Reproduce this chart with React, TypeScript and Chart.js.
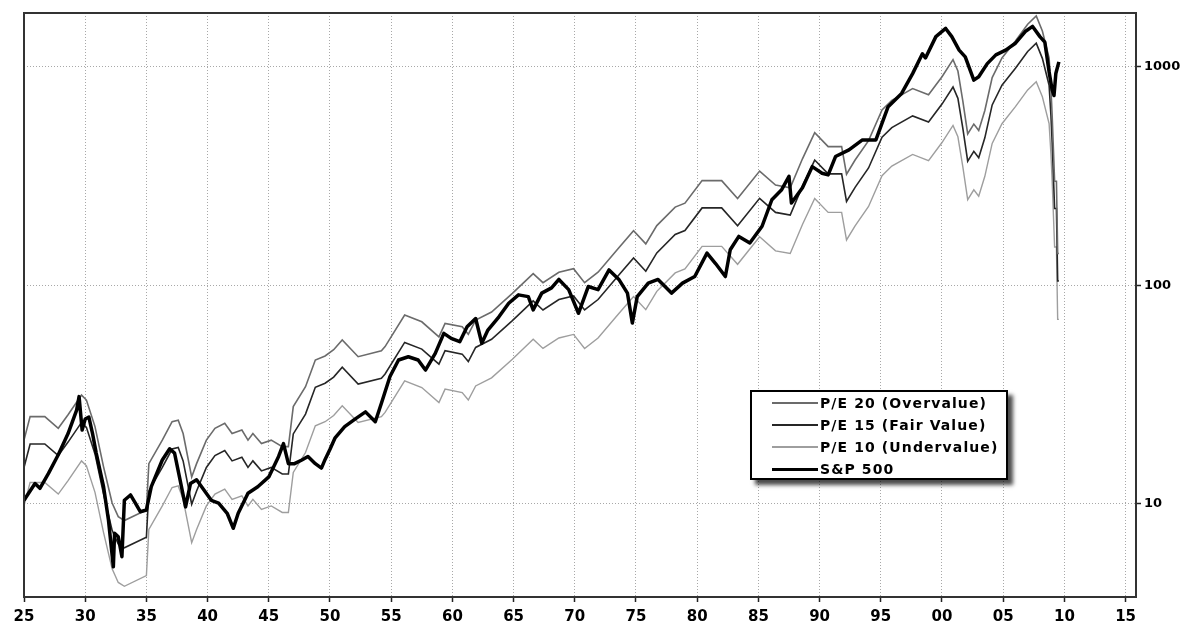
import { useEffect, useRef } from "react";
import { Chart, registerables } from "chart.js";

Chart.register(...registerables);

// S&P 500 index level (decimal year, index value)
const spYears = [
  1925.0, 1925.9, 1926.3, 1927.0, 1927.8, 1928.6, 1929.3, 1929.5, 1929.75, 1930.0, 1930.3, 1930.6,
  1930.9, 1931.5, 1931.9, 1932.3, 1932.4, 1932.7, 1933.0, 1933.2, 1933.7, 1934.1, 1934.5, 1935.0,
  1935.4, 1936.3, 1936.9, 1937.3, 1937.7, 1938.2, 1938.6, 1939.1, 1939.7, 1940.3, 1940.9, 1941.6,
  1942.1, 1942.5, 1943.3, 1944.1, 1945.0, 1945.8, 1946.2, 1946.6, 1947.1, 1947.7, 1948.2, 1948.8,
  1949.3, 1949.6, 1950.0, 1950.4, 1951.2, 1952.1, 1952.9, 1953.7, 1954.2, 1954.9, 1955.6, 1956.4,
  1957.2, 1957.8, 1958.6, 1959.3, 1959.9, 1960.6, 1961.2, 1961.9, 1962.4, 1962.9, 1963.8, 1964.6,
  1965.4, 1966.2, 1966.6, 1967.3, 1968.1, 1968.7, 1969.5, 1970.3, 1971.1, 1971.9, 1972.8, 1973.6,
  1974.3, 1974.7, 1975.1, 1976.0, 1976.8, 1977.9, 1978.8, 1979.8, 1980.8, 1981.5, 1982.3, 1982.7,
  1983.4, 1984.3, 1985.3, 1986.1, 1986.9, 1987.5, 1987.7, 1988.6, 1989.4, 1990.2, 1990.7, 1991.3,
  1992.4, 1993.5, 1994.6, 1995.6, 1996.7, 1997.6, 1998.4, 1998.65, 1999.5, 2000.3, 2000.8, 2001.4,
  2001.9, 2002.6, 2003.0, 2003.7, 2004.4, 2005.2, 2006.0, 2006.8, 2007.4, 2008.0, 2008.4, 2008.75,
  2009.0, 2009.15, 2009.3, 2009.55,
];
const spValues = [
  10.4, 12.4, 11.8, 13.8, 16.8, 21.0, 26.9, 31.0, 21.8, 24.5, 25.0, 21.0,
  17.1, 12.0, 8.45, 5.16, 7.35, 7.08, 5.74, 10.4, 11.0, 10.1, 9.22, 9.39,
  12.0, 15.9, 17.9, 17.1, 13.3, 9.7, 12.4, 12.9, 11.6, 10.4, 10.1, 9.07,
  7.74, 9.07, 11.2, 12.0, 13.3, 16.5, 18.9, 15.3, 15.3, 15.9, 16.5, 15.3,
  14.6, 16.0, 17.8, 20.0, 22.6, 24.6, 26.4, 23.8, 28.9, 38.3, 45.6, 47.2,
  45.6, 41.0, 48.9, 60.4, 57.3, 55.3, 64.7, 70.6, 54.4, 62.5, 71.9, 82.9,
  90.6, 88.9, 77.3, 92.3, 97.5, 106.6, 95.7, 74.6, 98.9, 95.7, 117.8, 106.6,
  92.3, 67.3, 88.9, 102.5, 106.6, 92.3, 102.5, 109.9, 140.6, 126.0, 109.9, 145.7,
  167.7, 156.4, 186.7, 246.8, 274.4, 315.9, 238.5, 280.0, 349.9, 326.5, 320.7, 389.1,
  417.5, 463.4, 463.4, 658.3, 756.6, 932.5, 1150, 1100, 1377, 1501, 1377, 1195,
  1113, 871, 902, 1036, 1136, 1195, 1284, 1453, 1533, 1377, 1300, 950,
  785, 740, 933, 1055,
];

// Trailing earnings per share behind the P/E bands (decimal year, EPS)
const epsYears = [
  1925.0, 1925.5, 1926.7, 1927.8, 1928.6, 1929.7, 1930.1, 1930.8, 1931.5, 1932.2, 1932.7, 1933.2,
  1935.0, 1935.2, 1936.3, 1937.1, 1937.6, 1938.0, 1938.7, 1939.1, 1939.9, 1940.6, 1941.4, 1942.0,
  1942.8, 1943.3, 1943.7, 1944.4, 1945.2, 1946.1, 1946.6, 1947.0, 1948.0, 1948.8, 1949.6, 1950.3,
  1951.0, 1952.3, 1954.2, 1954.5, 1956.1, 1957.5, 1958.9, 1959.4, 1960.8, 1961.3, 1961.9, 1963.2,
  1964.9, 1966.6, 1967.4, 1968.7, 1969.9, 1970.8, 1971.9, 1973.6, 1974.8, 1975.8, 1976.7, 1978.2,
  1979.0, 1980.4, 1982.0, 1983.3, 1985.1, 1986.4, 1987.6, 1988.6, 1989.6, 1990.7, 1991.8, 1992.2,
  1992.9, 1994.0, 1995.1, 1995.9, 1997.6, 1998.9, 2000.0, 2000.9, 2001.3, 2001.7, 2002.1, 2002.6,
  2003.0, 2003.5, 2004.1, 2004.9, 2006.0, 2007.0, 2007.7, 2008.2, 2008.75, 2008.9, 2009.0, 2009.2,
  2009.35, 2009.45, 2009.55,
];
const epsValues = [
  0.98, 1.255, 1.255, 1.11, 1.28, 1.575, 1.495, 1.13, 0.74, 0.505, 0.4375, 0.42,
  0.47, 0.765, 0.98, 1.19, 1.21, 1.05, 0.665, 0.765, 0.98, 1.11, 1.17, 1.05,
  1.09, 0.98, 1.05, 0.945, 0.98, 0.915, 0.915, 1.395, 1.72, 2.28, 2.38, 2.54,
  2.815, 2.36, 2.51, 2.625, 3.66, 3.41, 2.91, 3.355, 3.235, 2.99, 3.47, 3.78,
  4.6, 5.67, 5.15, 5.75, 5.97, 5.15, 5.75, 7.44, 8.9, 7.75, 9.4, 11.42,
  11.9, 15.1, 15.1, 12.5, 16.7, 14.4, 14.0, 19.0, 25.0, 21.6, 21.6, 16.16,
  18.75, 23.0, 31.8, 35.2, 39.8, 37.3, 45.1, 54.0, 47.9, 35.0, 24.7, 27.4,
  25.6, 31.6, 44.7, 55.0, 65.8, 78.5, 85.6, 73.0, 55.0, 40.0, 30.0, 15.0,
  15.0, 7.0, 7.0,
];

const seriesLabels = ["P/E 20 (Overvalue)", "P/E 15 (Fair Value)", "P/E 10 (Undervalue)", "S&P 500"];
const peMultiples = [20, 15, 10];
const bandColors = ["#6b6b6b", "#262626", "#9e9e9e"];
const bandWidths = [1.6, 1.6, 1.4];
const spColor = "#000000";

const xTickYears = [
  1925, 1930, 1935, 1940, 1945, 1950, 1955, 1960, 1965, 1970,
  1975, 1980, 1985, 1990, 1995, 2000, 2005, 2010, 2015,
];
const yTickValues = [10, 100, 1000];

const FONT = '"DejaVu Sans", "Liberation Sans", sans-serif';

const framePlugin = {
  id: "plotFrame",
  afterDatasetsDraw(chart: any) {
    const { ctx, chartArea: a } = chart;
    ctx.save();
    ctx.strokeStyle = "#333";
    ctx.lineWidth = 2;
    ctx.strokeRect(a.left, a.top, a.right - a.left, a.bottom - a.top);
    ctx.restore();
  },
};

export default function App() {
  const canvasRef = useRef<HTMLCanvasElement>(null);

  useEffect(() => {
    const spData = spYears.map((x, i) => ({ x, y: spValues[i] }));
    const bands = peMultiples.map((m, k) => ({
      label: seriesLabels[k],
      data: epsYears.map((x, i) => ({ x, y: epsValues[i] * m })),
      borderColor: bandColors[k],
      borderWidth: bandWidths[k],
      pointRadius: 0,
      tension: 0,
      fill: false,
    }));

    const chart = new Chart(canvasRef.current!, {
      type: "line",
      data: {
        datasets: [
          {
            label: seriesLabels[3],
            data: spData,
            borderColor: spColor,
            borderWidth: 3.5,
            pointRadius: 0,
            tension: 0,
            fill: false,
            borderJoinStyle: "round",
          },
          ...bands,
        ],
      },
      options: {
        animation: false,
        responsive: false,
        devicePixelRatio: 1,
        layout: { padding: { left: 16, top: 5, right: 0, bottom: 0 } },
        plugins: { legend: { display: false }, tooltip: { enabled: false } },
        scales: {
          x: {
            type: "linear",
            min: 1925,
            max: 2015.85,
            afterBuildTicks: (s: any) => {
              s.ticks = xTickYears.map((v) => ({ value: v }));
            },
            afterFit: (s: any) => {
              s.height = 26;
              s.paddingLeft = 0;
              s.paddingRight = 0;
            },
            ticks: {
              autoSkip: false,
              maxRotation: 0,
              padding: 6,
              color: "#000",
              font: { family: FONT, size: 15, weight: "bold" },
              callback: (v: any) => String(Math.round(Number(v)) % 100).padStart(2, "0"),
            },
            grid: {
              color: "#a8a8a8",
              lineWidth: 1,
              tickColor: "#222",
              tickLength: 5,
              tickWidth: 1.5,
              tickBorderDash: [],
            },
            border: { display: false, dash: [1, 2] },
          },
          y: {
            type: "logarithmic",
            position: "right",
            min: 3.753,
            max: 1766,
            afterBuildTicks: (s: any) => {
              s.ticks = yTickValues.map((v) => ({ value: v }));
            },
            afterFit: (s: any) => {
              s.width = 51;
              s.paddingTop = 0;
              s.paddingBottom = 0;
            },
            ticks: {
              padding: 3,
              color: "#000",
              font: { family: FONT, size: 13, weight: "bold" },
              callback: (v: any) => String(v),
            },
            grid: {
              color: "#a8a8a8",
              lineWidth: 1,
              tickColor: "#222",
              tickLength: 5,
              tickWidth: 1.5,
              tickBorderDash: [],
            },
            border: { display: false, dash: [1, 2] },
          },
        },
      },
      plugins: [framePlugin],
    } as any);

    return () => chart.destroy();
  }, []);

  const legendRows = [
    { label: seriesLabels[0], color: bandColors[0], width: 1.5 },
    { label: seriesLabels[1], color: bandColors[1], width: 1.5 },
    { label: seriesLabels[2], color: bandColors[2], width: 1.5 },
    { label: seriesLabels[3], color: spColor, width: 3 },
  ];

  return (
    <div style={{ position: "relative", width: 1179, height: 615 }}>
      <canvas ref={canvasRef} width={1179} height={615} style={{ display: "block" }} />
      <div
        style={{
          position: "absolute",
          left: 742,
          top: 382,
          width: 258,
          height: 90,
          boxSizing: "border-box",
          border: "2px solid #000",
          background: "#fff",
          boxShadow: "5px 5px 4px rgba(0,0,0,0.7)",
          fontFamily: FONT,
          fontWeight: "bold",
          fontSize: 14,
          letterSpacing: "1.1px",
          color: "#000",
        }}
      >
        {legendRows.map((r) => (
          <div
            key={r.label}
            style={{ display: "flex", alignItems: "center", height: 22, paddingLeft: 20, whiteSpace: "nowrap" }}
          >
            <span style={{ display: "inline-block", width: 46, height: r.width, background: r.color, marginRight: 2 }} />
            <span>{r.label}</span>
          </div>
        ))}
      </div>
    </div>
  );
}
